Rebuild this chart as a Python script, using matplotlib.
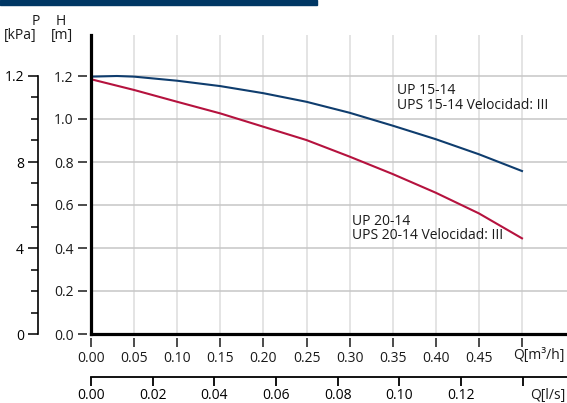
import numpy as np
import matplotlib.pyplot as plt
from matplotlib.patches import Rectangle

plt.rcParams['font.family'] = ['Open Sans', 'DejaVu Sans']
plt.rcParams['font.size'] = 10
plt.rcParams['text.color'] = '#1a1a1a'

# datos
q_m3h = [0.00, 0.03, 0.05, 0.10, 0.15, 0.20, 0.25, 0.30, 0.35, 0.40, 0.45, 0.50]
h_up15 = [1.197, 1.200, 1.197, 1.178, 1.153, 1.120, 1.080, 1.029, 0.969, 0.906, 0.836, 0.758]
q_red = [0.00, 0.05, 0.10, 0.15, 0.20, 0.25, 0.30, 0.35, 0.40, 0.45, 0.50]
h_up20 = [1.185, 1.135, 1.080, 1.026, 0.964, 0.902, 0.825, 0.744, 0.657, 0.561, 0.445]

xticks_m3h = [0.00, 0.05, 0.10, 0.15, 0.20, 0.25, 0.30, 0.35, 0.40, 0.45, 0.50]
xticks_ls = [0.00, 0.02, 0.04, 0.06, 0.08, 0.10, 0.12, 0.14]
yticks_h = [0.0, 0.2, 0.4, 0.6, 0.8, 1.0, 1.2]
p_major = [0, 4, 8, 12]
p_labels = ['0', '4', '8', '1.2']

W, H = 567, 403
def rect(x0, y0, x1, y1):
    return [x0 / W, 1 - y1 / H, (x1 - x0) / W, (y1 - y0) / H]

fig = plt.figure(figsize=(W / 100, H / 100), dpi=100)

# barra azul de arriba
fig.patches.append(Rectangle((0, 1 - 5 / H), 317 / W, 5 / H, transform=fig.transFigure,
                             color='#003764', zorder=10))

BLUE = '#0f3d6e'
RED = '#b5123e'

ax = fig.add_axes(rect(91, 35, 567, 334))
ax.set_xlim(0, 476 / 862)
ax.set_ylim(0, 299 / 215)
ax.patch.set_visible(False)

for x in xticks_m3h[1:]:
    ax.axvline(x, color='#dcdcdc', lw=1.1, zorder=0)
for y in yticks_h[1:]:
    ax.axhline(y, color='#c6c6c6', lw=1.1, zorder=0)

ax.plot(q_m3h, h_up15, color=BLUE, lw=1.5, zorder=3)
ax.plot(q_red, h_up20, color=RED, lw=1.5, zorder=3)

ax.axvline(0, color='black', lw=2.3, zorder=5, clip_on=False, solid_capstyle='projecting')
ax.axhline(0, color='black', lw=2.3, zorder=5, clip_on=False, solid_capstyle='projecting')

for s in ax.spines.values():
    s.set_visible(False)
ax.spines['left'].set_position(('outward', 3))
ax.spines['bottom'].set_position(('outward', 3))
ax.set_xticks(xticks_m3h)
ax.set_xticklabels([f'{v:.2f}' for v in xticks_m3h[:-1]] + [''])
ax.set_yticks(yticks_h)
ax.set_yticklabels([f'{v:.1f}' for v in yticks_h])
ax.tick_params(direction='out', length=6.5, width=1.1, color='#1a1a1a', pad=3,
               labelsize=10, labelcolor='#1a1a1a')

ax.text(0.355, 1.116, 'UP 15-14', fontsize=10)
ax.text(0.355, 1.047, 'UPS 15-14 Velocidad: III', fontsize=10)
ax.text(0.3028, 0.507, 'UP 20-14', fontsize=10)
ax.text(0.3028, 0.442, 'UPS 20-14 Velocidad: III', fontsize=10)

fig.text(565 / W, 1 - 355 / H, 'Q[m³/h]', ha='right', va='center', fontsize=10)

# eje Q en l/s
axq = fig.add_axes([91 / W, 1 - 377 / H, 476 / W, 0.0005])
axq.set_xlim(0, 476 / 3084)
axq.patch.set_visible(False)
for k in ['top', 'left', 'right']:
    axq.spines[k].set_visible(False)
axq.spines['bottom'].set_linewidth(1.3)
axq.set_yticks([])
axq.set_xticks(xticks_ls)
axq.set_xticklabels([f'{v:.2f}' for v in xticks_ls[:-1]] + [''])
axq.tick_params(direction='out', length=6.5, width=1.3, pad=1.5, labelsize=10)
fig.text(565 / W, 1 - 395 / H, 'Q[l/s]', ha='right', va='center', fontsize=10)

# eje P en kPa
axp = fig.add_axes([38 / W, 1 - 334 / H, 0.0005, 299 / H])
axp.set_ylim(0, 299 / 215 * 10)
axp.patch.set_visible(False)
for k in ['top', 'bottom', 'right']:
    axp.spines[k].set_visible(False)
axp.spines['left'].set_bounds(0, 12)
axp.spines['left'].set_linewidth(1.2)
axp.set_xticks([])
axp.set_yticks(p_major)
axp.set_yticklabels(p_labels)
axp.set_yticks(range(0, 13), minor=True)
axp.tick_params(which='major', direction='out', length=7, width=1.1, pad=3, labelsize=10)
axp.tick_params(which='minor', direction='out', length=5, width=1.1)

fig.text(35.5 / W, 1 - 25 / H, 'P', ha='center', va='baseline', fontsize=10)
fig.text(20.5 / W, 1 - 39 / H, '[kPa]', ha='center', va='baseline', fontsize=10)
fig.text(61 / W, 1 - 25 / H, 'H', ha='center', va='baseline', fontsize=10)
fig.text(62 / W, 1 - 39 / H, '[m]', ha='center', va='baseline', fontsize=10)

fig.savefig('out.png', dpi=100)
